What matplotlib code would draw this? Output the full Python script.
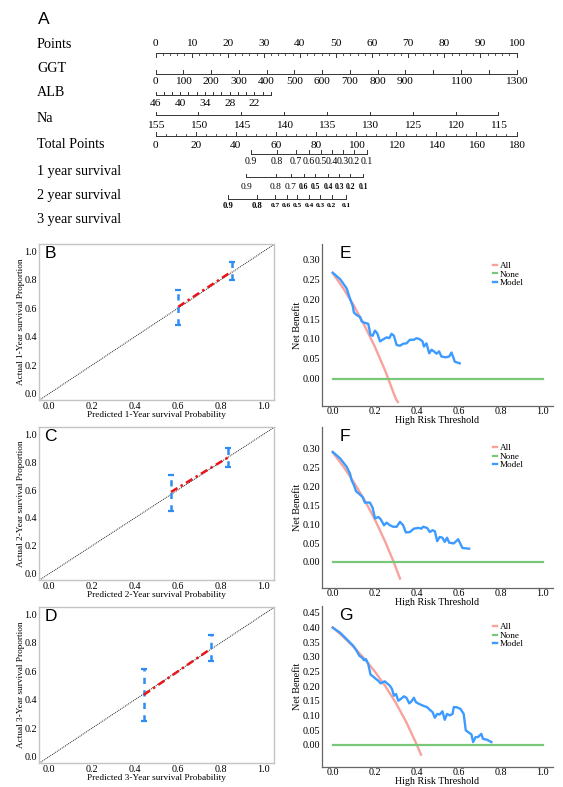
import matplotlib
matplotlib.use('Agg')
import matplotlib.pyplot as plt

plt.rcParams['font.family'] = ['Liberation Serif', 'DejaVu Serif']

W, H = 563, 787

# ---------------- panel A: nomogram values ----------------
points_ticks = list(range(0, 101, 10))
ggt_ticks = list(range(0, 1301, 100))
ggt_labels = [0, 100, 200, 300, 400, 500, 600, 700, 800, 900, 1100, 1300]
alb_ticks = list(range(46, 17, -2))
alb_labels = [46, 40, 34, 28, 22]
na_ticks = list(range(155, 114, -5))
total_ticks = list(range(0, 181, 20))
surv_probs = [0.9, 0.8, 0.7, 0.6, 0.5, 0.4, 0.3, 0.2, 0.1]
surv1_total = [47.5, 60.5, 70.0, 76.5, 82.5, 88.0, 93.5, 99.0, 105.3]
surv2_total = [45.2, 60.0, 67.5, 74.0, 79.5, 86.0, 91.5, 97.0, 103.5]
surv3_total = [36.0, 50.8, 59.7, 65.5, 70.8, 76.6, 82.1, 87.8, 95.0]
row_names = ['Points', 'GGT', 'ALB', 'Na', 'Total Points',
             '1 year survival', '2 year survival', '3 year survival']

# ---------------- panels B-D: calibration ----------------
b_pred = [0.603, 0.852]
b_obs = [0.611, 0.859]
b_low = [0.482, 0.800]
b_high = [0.729, 0.925]

c_pred = [0.569, 0.836]
c_obs = [0.587, 0.835]
c_low = [0.452, 0.764]
c_high = [0.711, 0.900]

d_pred = [0.442, 0.754]
d_obs = [0.435, 0.758]
d_low = [0.254, 0.670]
d_high = [0.619, 0.859]

# ---------------- panels E-G: decision curves ----------------
e_all_x = [0.0, 0.05, 0.10, 0.15, 0.20, 0.25, 0.30, 0.31]
e_all_y = [0.265, 0.227, 0.184, 0.135, 0.081, 0.020, -0.050, -0.058]
e_model_x = [0.000, 0.035, 0.066, 0.079, 0.087, 0.095, 0.101, 0.114, 0.130, 0.138,
             0.149, 0.169, 0.180, 0.190, 0.201, 0.212, 0.225, 0.237, 0.256, 0.269,
             0.280, 0.291, 0.304, 0.320, 0.335, 0.351, 0.367, 0.386, 0.399, 0.415,
             0.427, 0.434, 0.446, 0.459, 0.470, 0.481, 0.494, 0.506, 0.517, 0.538,
             0.554, 0.565, 0.581, 0.604]
e_model_y = [0.266, 0.250, 0.227, 0.206, 0.194, 0.183, 0.166, 0.160, 0.155, 0.144,
             0.141, 0.138, 0.110, 0.108, 0.121, 0.114, 0.094, 0.098, 0.104, 0.102,
             0.113, 0.108, 0.085, 0.083, 0.088, 0.089, 0.098, 0.098, 0.102, 0.099,
             0.094, 0.081, 0.089, 0.064, 0.073, 0.069, 0.063, 0.069, 0.056, 0.054,
             0.056, 0.066, 0.043, 0.039]

f_all_x = [0.0, 0.05, 0.10, 0.15, 0.20, 0.25, 0.29, 0.32]
f_all_y = [0.290, 0.253, 0.211, 0.165, 0.113, 0.053, 0.000, -0.044]
f_model_x = [0.000, 0.035, 0.066, 0.082, 0.090, 0.101, 0.111, 0.130, 0.142, 0.153,
             0.177, 0.190, 0.201, 0.217, 0.228, 0.244, 0.256, 0.272, 0.288, 0.304,
             0.320, 0.335, 0.348, 0.367, 0.386, 0.407, 0.422, 0.430, 0.449, 0.462,
             0.475, 0.486, 0.497, 0.509, 0.522, 0.533, 0.544, 0.554, 0.576, 0.597,
             0.617, 0.649]
f_model_y = [0.291, 0.274, 0.252, 0.234, 0.216, 0.203, 0.187, 0.178, 0.172, 0.157,
             0.157, 0.143, 0.115, 0.119, 0.113, 0.097, 0.104, 0.097, 0.093, 0.093,
             0.106, 0.097, 0.078, 0.079, 0.088, 0.090, 0.088, 0.093, 0.090, 0.079,
             0.084, 0.081, 0.055, 0.066, 0.064, 0.053, 0.064, 0.051, 0.049, 0.060,
             0.037, 0.035]

g_all_x = [0.0, 0.05, 0.10, 0.15, 0.20, 0.25, 0.30, 0.35, 0.40, 0.42]
g_all_y = [0.400, 0.368, 0.333, 0.294, 0.250, 0.200, 0.143, 0.077, 0.000, -0.034]
g_model_x = [0.000, 0.035, 0.066, 0.098, 0.114, 0.127, 0.138, 0.149, 0.158, 0.169,
             0.180, 0.193, 0.206, 0.217, 0.228, 0.237, 0.248, 0.259, 0.272, 0.282,
             0.291, 0.301, 0.312, 0.324, 0.339, 0.351, 0.364, 0.375, 0.386, 0.396,
             0.411, 0.430, 0.449, 0.462, 0.475, 0.486, 0.497, 0.509, 0.522, 0.533,
             0.544, 0.557, 0.570, 0.576, 0.589, 0.608, 0.623, 0.633, 0.644, 0.660,
             0.668, 0.680, 0.691, 0.707, 0.715, 0.734, 0.755]
g_model_y = [0.399, 0.382, 0.360, 0.337, 0.320, 0.303, 0.298, 0.288, 0.292, 0.275,
             0.239, 0.232, 0.224, 0.218, 0.209, 0.213, 0.216, 0.209, 0.201, 0.190,
             0.167, 0.173, 0.150, 0.156, 0.165, 0.160, 0.141, 0.148, 0.160, 0.145,
             0.139, 0.133, 0.128, 0.119, 0.111, 0.092, 0.105, 0.103, 0.114, 0.085,
             0.105, 0.100, 0.105, 0.128, 0.128, 0.122, 0.105, 0.049, 0.043, 0.035,
             0.009, 0.026, 0.026, 0.037, 0.020, 0.017, 0.009]

C_ALL = '#f7a39c'
C_NONE = '#79c779'
C_MODEL = '#3d9bff'
C_EB = '#2f8cf5'

fig = plt.figure(figsize=(W / 100, H / 100), dpi=100)


def px_axes(left, top, right, bottom):
    # pixel box -> figure fraction
    return fig.add_axes([left / W, 1 - bottom / H, (right - left) / W, (bottom - top) / H])


# ---------------- nomogram ----------------
nom = px_axes(0, 0, W, 235)
x0_px, x100_px = 155.5, 516.5
scale = (x100_px - x0_px) / 100.0
nom.set_xlim(-x0_px / scale, (W - x0_px) / scale)
nom.set_ylim(235, 0)
nom.axis('off')
lc = '#333333'


def axis_row(xs, y, ticks_long, ticks_short=(), up=True, long_len=3.5, short_len=2.0):
    nom.plot([min(xs), max(xs)], [y, y], color=lc, lw=0.7)
    d = -1 if up else 1
    for t in ticks_long:
        nom.plot([t, t], [y, y + d * long_len], color=lc, lw=0.7)
    for t in ticks_short:
        nom.plot([t, t], [y, y + d * short_len], color=lc, lw=0.6)


def labels_row(xs, labels, y, size=8.2, weight='normal'):
    for x, s in zip(xs, labels):
        nom.text(x, y, s, ha='center', va='center', fontsize=size, fontweight=weight)


fig.text(38 / W, 1 - 19 / H, 'A', fontsize=12.5, family='Liberation Sans', va='center', ha='left')

row_y = [44, 68, 92, 119, 145, 172, 195, 219]
for name, yy in zip(row_names, row_y):
    fig.text(37 / W, 1 - yy / H, name, fontsize=10.2, va='center', ha='left')

# Points
pts_minor = [p for p in range(0, 101, 2) if p % 10]
axis_row(points_ticks, 53, points_ticks, pts_minor, up=False, long_len=3.5, short_len=2)
labels_row(points_ticks, [str(p) for p in points_ticks], 44)

# GGT
ggt_pos = [v * 100 / 1300 for v in ggt_ticks]
axis_row(ggt_pos, 73.5, ggt_pos, up=True, long_len=4)
labels_row([v * 100 / 1300 for v in ggt_labels], [str(v) for v in ggt_labels], 82)

# ALB
alb_pos = [(46 - v) * 1.142 for v in alb_ticks]
axis_row(alb_pos, 94.5, alb_pos, up=True, long_len=3)
labels_row([(46 - v) * 1.142 for v in alb_labels], [str(v) for v in alb_labels], 103.5)

# Na
na_pos = [(155 - v) * 2.375 for v in na_ticks]
axis_row(na_pos, 115, na_pos, up=True, long_len=3.5)
labels_row(na_pos, [str(v) for v in na_ticks], 125)

# Total points
tp_pos = [v * 100 / 180 for v in total_ticks]
tp_minor = [v * 100 / 180 for v in range(0, 181, 5) if v % 20]
axis_row(tp_pos, 135.5, tp_pos, tp_minor, up=True, long_len=3.5, short_len=2)
labels_row(tp_pos, [str(v) for v in total_ticks], 145)

# survival rows
prob_txt = ['%.1f' % p for p in surv_probs]
s1 = [v * 100 / 180 for v in surv1_total]
axis_row(s1, 153.5, s1, up=True, long_len=3.5)
labels_row(s1, prob_txt, 161.5, size=7.0)

s2 = [v * 100 / 180 for v in surv2_total]
axis_row(s2, 177, s2, up=True, long_len=3.5)
labels_row(s2[:3], prob_txt[:3], 187, size=6.8)
labels_row(s2[3:], prob_txt[3:], 187, size=5.5, weight='bold')

s3 = [v * 100 / 180 for v in surv3_total]
axis_row(s3, 198.5, s3, up=True, long_len=4)
labels_row(s3[:2], prob_txt[:2], 205.5, size=6.2, weight='bold')
labels_row(s3[2:], prob_txt[2:], 205.5, size=5.3, weight='bold')


# ---------------- calibration panels ----------------
def calib(box, letter, pred, obs, low, high, yr):
    ax = px_axes(*box)
    ax.set_xlim(-0.046, 1.05)
    ax.set_ylim(-0.045, 1.053)
    for s in ax.spines.values():
        s.set_color('#c4c4c4')
        s.set_linewidth(1.0)
    ax.plot([-0.1, 1.1], [-0.1, 1.1], color='#222222', lw=0.7, ls=(0, (1, 1)))
    yerr = [[o - l for o, l in zip(obs, low)], [h - o for o, h in zip(obs, high)]]
    eb = ax.errorbar(pred, obs, yerr=yerr, fmt='none', ecolor=C_EB, elinewidth=1.8,
                     capsize=2.2, capthick=1.6)
    eb[-1][0].set_linestyle((0, (2.5, 2.5)))
    ax.plot(pred, obs, color='#e8161b', lw=1.8, ls=(0, (3, 1.5, 1, 1.5)))
    ticks = [0.0, 0.2, 0.4, 0.6, 0.8, 1.0]
    ax.set_xticks(ticks)
    ax.set_yticks(ticks)
    ax.set_xticklabels(['%.1f' % t for t in ticks])
    ax.set_yticklabels(['%.1f' % t for t in ticks])
    ax.tick_params(length=0, labelsize=7.3, pad=1.5)
    ax.set_xlabel('Predicted %d-Year survival Probability' % yr, fontsize=6.7, labelpad=0)
    ax.set_ylabel('Actual %d-Year survival Proportion' % yr, fontsize=6.7)
    ax.yaxis.set_label_coords(-0.062, 0.5)
    ax.text(0.022, 0.94, letter, transform=ax.transAxes, fontsize=12.5,
            family='Liberation Sans', ha='left', va='center')
    return ax


calib((39.3, 244, 274, 400), 'B', b_pred, b_obs, b_low, b_high, 1)
calib((39.3, 427, 274, 580), 'C', c_pred, c_obs, c_low, c_high, 2)
calib((39.3, 607, 274, 763), 'D', d_pred, d_obs, d_low, d_high, 3)


# ---------------- decision curve panels ----------------
def dca(box, letter, ylim, yticks, all_x, all_y, mod_x, mod_y, ly):
    ax = px_axes(*box)
    ax.set_xlim(-0.051, 1.048)
    ax.set_ylim(*ylim)
    for s in ['top', 'right']:
        ax.spines[s].set_visible(False)
    for s in ['left', 'bottom']:
        ax.spines[s].set_color('#666666')
        ax.spines[s].set_linewidth(0.9)
    h1, = ax.plot(all_x, all_y, color=C_ALL, lw=1.7, label='All')
    h2, = ax.plot([0, 1], [0, 0], color=C_NONE, lw=1.6, label='None')
    h3, = ax.plot(mod_x, mod_y, color=C_MODEL, lw=1.7, label='Model')
    xt = [0.0, 0.2, 0.4, 0.6, 0.8, 1.0]
    ax.set_xticks(xt)
    ax.set_xticklabels(['%.1f' % t for t in xt])
    ax.set_yticks(yticks)
    ax.set_yticklabels(['%.2f' % t for t in yticks])
    ax.tick_params(axis='y', length=0, labelsize=7.3, pad=1.5)
    ax.tick_params(axis='x', length=0, labelsize=7.3, pad=1)
    ax.set_xlabel('High Risk Threshold', fontsize=7.2, labelpad=0)
    ax.set_ylabel('Net Benefit', fontsize=7.3)
    ax.yaxis.set_label_coords(-0.085, 0.5)
    ax.legend(handles=[h1, h2, h3], loc='upper left', bbox_to_anchor=(0.74, ly),
              frameon=False, fontsize=6.6, handlelength=0.4, handletextpad=0.35,
              labelspacing=0.0, borderpad=0, borderaxespad=0)
    ax.text(0.075, 0.94, letter, transform=ax.transAxes, fontsize=12.5,
            family='Liberation Sans', ha='left', va='center')
    return ax


dca((322, 244, 553, 406), 'E', (-0.068, 0.338), [0, 0.05, 0.10, 0.15, 0.20, 0.25, 0.30],
    e_all_x, e_all_y, e_model_x, e_model_y, 0.89)
dca((322, 427, 553, 588), 'F', (-0.069, 0.357), [0, 0.05, 0.10, 0.15, 0.20, 0.25, 0.30],
    f_all_x, f_all_y, f_model_x, f_model_y, 0.895)
dca((322, 606, 553, 767), 'G', (-0.076, 0.473),
    [0, 0.05, 0.10, 0.15, 0.20, 0.25, 0.30, 0.35, 0.40, 0.45],
    g_all_x, g_all_y, g_model_x, g_model_y, 0.895)

fig.savefig('out.png', dpi=100)
